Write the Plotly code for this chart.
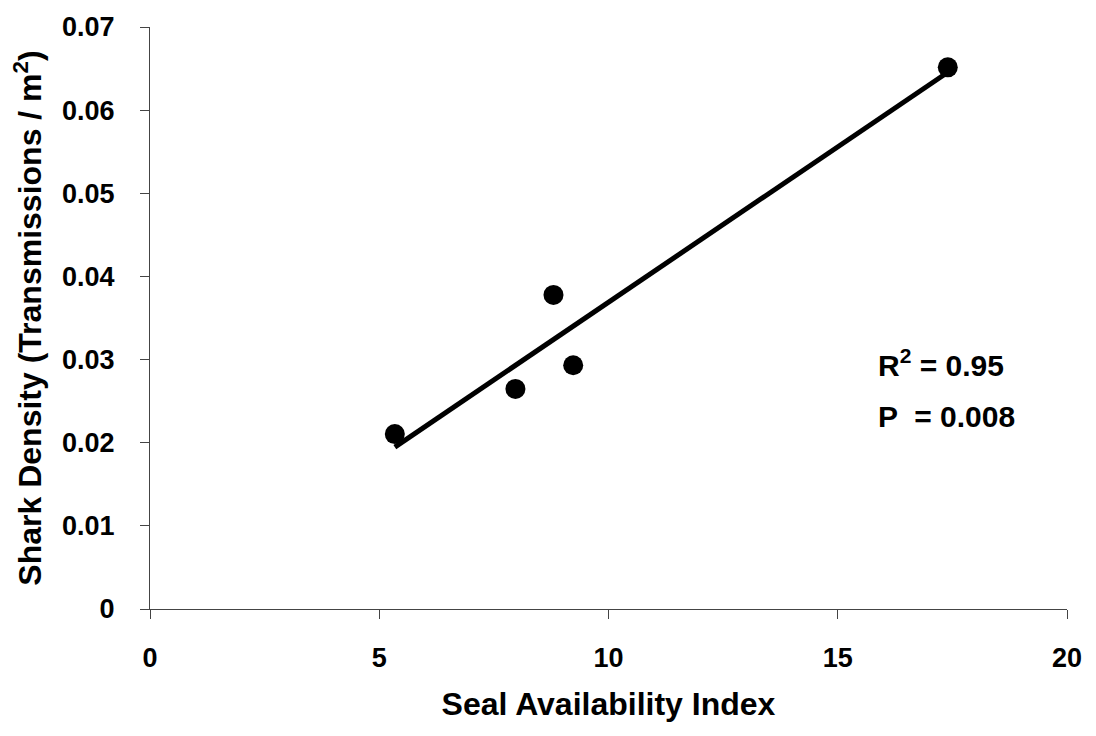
import numpy as np
import plotly.graph_objects as go

seal_index = [5.34, 7.97, 8.80, 9.23, 17.40]
shark_density = [0.02104, 0.02647, 0.03778, 0.02932, 0.06515]
x_ticks = [0, 5, 10, 15, 20]
y_ticks = [0, 0.01, 0.02, 0.03, 0.04, 0.05, 0.06, 0.07]
y_tick_labels = ["0", "0.01", "0.02", "0.03", "0.04", "0.05", "0.06", "0.07"]
stats_r2 = "0.95"
stats_p = "0.008"

slope, intercept = np.polyfit(seal_index, shark_density, 1)
fit_x = [min(seal_index), max(seal_index)]
fit_y = [slope * v + intercept for v in fit_x]

FONT = "Liberation Sans"
fig = go.Figure()
fig.add_trace(go.Scatter(x=seal_index, y=shark_density, mode="markers",
                         marker=dict(color="black", size=20), showlegend=False))
fig.add_trace(go.Scatter(x=fit_x, y=fit_y, mode="lines",
                         line=dict(color="black", width=5), showlegend=False))

axis_common = dict(showgrid=False, zeroline=False, showline=True, linecolor="#444",
                   linewidth=1, ticks="outside", ticklen=9, tickcolor="#444",
                   tickfont=dict(family=FONT, size=27, color="black", weight="bold"))
fig.update_xaxes(range=[0, 20], tickvals=x_ticks, ticklabelstandoff=16,
                 title=dict(text="Seal Availability Index", standoff=20,
                            font=dict(family=FONT, size=32, color="black", weight="bold")),
                 **axis_common)
fig.update_yaxes(range=[0, 0.07], tickvals=y_ticks, ticktext=y_tick_labels, ticklabelstandoff=20,
                 title=dict(text="Shark Density (Transmissions / m<sup>2</sup>)", standoff=10,
                            font=dict(family=FONT, size=32, color="black", weight="bold")),
                 **axis_common)

ann_font = dict(family=FONT, size=30, color="black", weight="bold")
fig.add_annotation(x=15.83, y=0.0296, xref="x", yref="y", xanchor="left", yanchor="middle",
                   text=f"R<sup>2</sup> = {stats_r2}", showarrow=False, font=ann_font)
fig.add_annotation(x=15.83, y=0.0231, xref="x", yref="y", xanchor="left", yanchor="middle",
                   text=f"P  = {stats_p}", showarrow=False, font=ann_font)

fig.update_layout(width=1096, height=736, paper_bgcolor="white", plot_bgcolor="white",
                  margin=dict(l=150, r=29, t=22, b=127))
fig.write_html("out.html")
